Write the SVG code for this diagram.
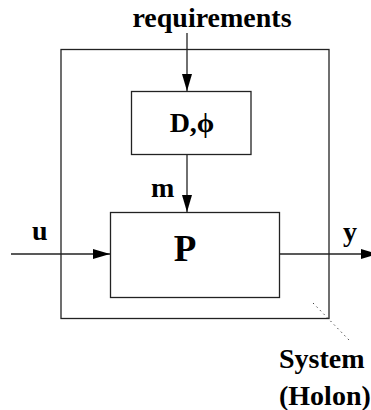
<svg xmlns="http://www.w3.org/2000/svg" width="371" height="410" viewBox="0 0 371 410">
<style>
.box{fill:none;stroke:#222;stroke-width:1.3}
.ln{fill:none;stroke:#222;stroke-width:1.3}
.lbl{font-family:"Liberation Serif","Times New Roman",serif;font-weight:bold;font-size:28px;fill:#000}
.dot{fill:none;stroke:#444;stroke-width:1;stroke-dasharray:1.5 3.5}
</style>
<defs>
<marker id="ah" viewBox="0 0 17 10" refX="17" refY="5" markerWidth="17" markerHeight="10" markerUnits="userSpaceOnUse" orient="auto">
<path d="M0,0 L17,5 L0,10 Z" fill="#000"/>
</marker>
</defs>
<rect width="371" height="410" fill="#fff"/>
<g id="system">
<rect class="box" x="61" y="49.5" width="268" height="269"/>
<text class="lbl" x="279" y="368">System</text>
<text class="lbl" x="279" y="405">(Holon)</text>
</g>
<g id="D">
<rect class="box" x="131.5" y="91.5" width="119.5" height="63"/>
<text class="lbl" x="192" y="132" text-anchor="middle">D,ϕ</text>
</g>
<g id="P">
<rect class="box" x="110.5" y="212.5" width="169" height="85"/>
<text class="lbl" x="185" y="261" text-anchor="middle" style="font-size:37px">P</text>
</g>
<g id="inputs">
<text class="lbl" x="212" y="27" text-anchor="middle">requirements</text>
<text class="lbl" x="32" y="240">u</text>
<text class="lbl" x="343" y="241">y</text>
</g>
<g id="connectors">
<line class="ln" x1="187" y1="33" x2="187" y2="91" marker-end="url(#ah)"/>
<line class="ln" x1="187" y1="155" x2="187" y2="212" marker-end="url(#ah)"/>
<text class="lbl" x="151" y="197">m</text>
<line class="ln" x1="11" y1="254" x2="110" y2="254" marker-end="url(#ah)"/>
<line class="ln" x1="280" y1="254" x2="378" y2="254" marker-end="url(#ah)"/>
<line class="dot" x1="313" y1="303" x2="349" y2="340"/>
</g>
</svg>
